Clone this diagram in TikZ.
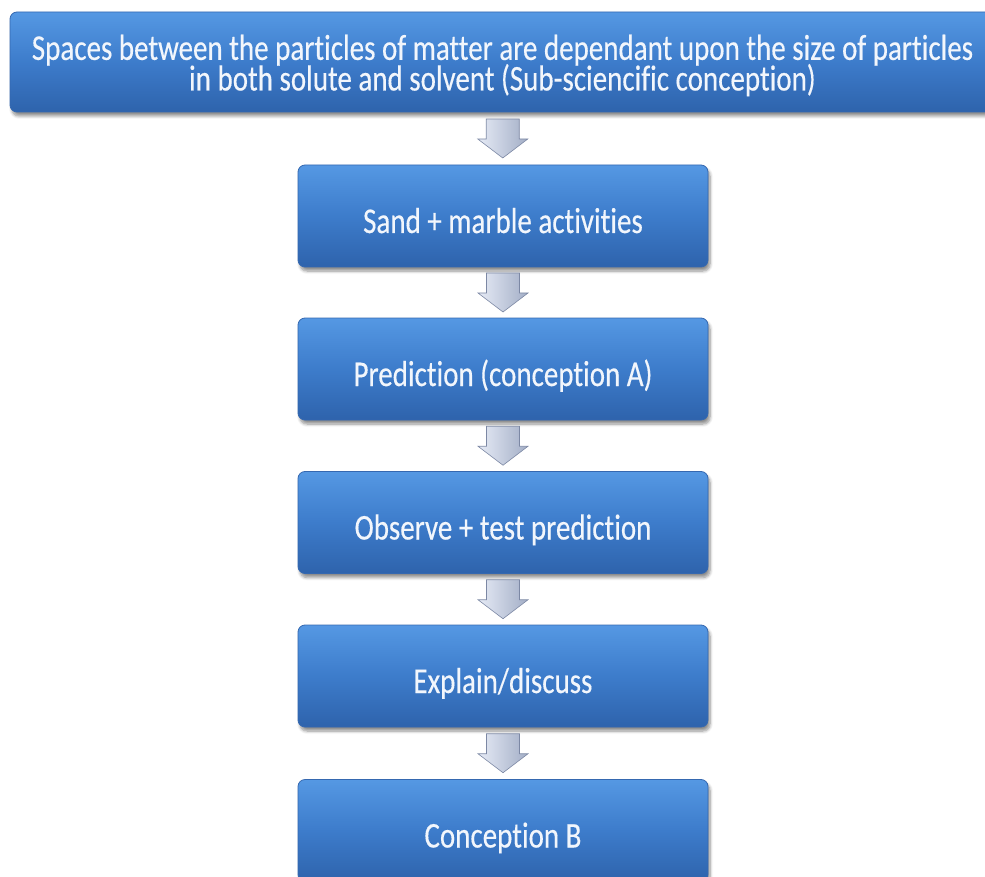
\documentclass[tikz,border=0pt]{standalone}
\usepackage{fontspec}
\setmainfont{Carlito}[Ligatures=NoCommon, FakeBold=0.4]
\usetikzlibrary{shadows.blur,calc}

\definecolor{boxtop}{HTML}{5598E3}
\definecolor{boxmid}{HTML}{3D7CCB}
\definecolor{boxbot}{HTML}{2E63AC}
\definecolor{boxline}{HTML}{3568B0}
\definecolor{boxtext}{HTML}{F2F6FC}
\definecolor{arrowlight}{HTML}{E6EBF6}
\definecolor{arrowdark}{HTML}{A3AEC6}
\definecolor{arrowline}{HTML}{7C88A4}

% tall, narrow lettering
\newcommand{\tallbox}[1]{\scalebox{1}[1.25]{#1}}
% two centred lines at a fixed baseline distance
\newcommand{\twolines}[2]{\vbox{\lineskiplimit=-50pt\baselineskip=24.5pt
  \halign{\hfil##\hfil\cr #1\cr #2\cr}}}

\tikzset{
  stagebox/.style={
    rounded corners=7pt, draw=boxline, line width=0.8pt,
    top color=boxtop, bottom color=boxbot, middle color=boxmid,
    text=boxtext, align=center, font=\fontsize{29}{23}\selectfont,
    minimum width=410pt, minimum height=102pt, inner sep=0pt,
    text height=36pt, text depth=2pt,
    blur shadow={shadow xshift=2pt, shadow yshift=-4pt, shadow blur steps=6,
                 shadow blur radius=3pt, shadow opacity=45}
  },
  headbox/.style={stagebox, minimum width=985pt, minimum height=100pt,
    text height=61pt, text depth=4pt},
  blockarrow/.style={
    draw=arrowline, line width=0.6pt, line join=miter,
    left color=arrowlight, right color=arrowdark
  }
}

% block arrow centred on a named coordinate: shaft 33 wide, head 50 wide, 39 long
\newcommand{\downarrowat}[1]{%
  \draw[blockarrow]
    ([shift={(-16.5,-19.5)}]#1) -- ([shift={(16.5,-19.5)}]#1)
    -- ([shift={(16.5,0.5)}]#1) -- ([shift={(25,0.5)}]#1)
    -- ([shift={(0,19.5)}]#1) -- ([shift={(-25,0.5)}]#1)
    -- ([shift={(-16.5,0.5)}]#1) -- cycle;}

\begin{document}
\begin{tikzpicture}[x=1pt,y=-1pt]
  \useasboundingbox (0,0) rectangle (985,877);

  \node[headbox] (top) at (502.5,62) {\tallbox{\twolines{Spaces between the particles of matter are dependant upon the size of particles}{in both solute and solvent (Sub-sciencific conception)}}};
  \node[stagebox] (sand) at (503,216) {\tallbox{Sand + marble activities}};
  \node[stagebox] (pred) at (503,369) {\tallbox{Prediction (conception A)}};
  \node[stagebox] (obs)  at (503,522.5) {\tallbox{Observe + test prediction}};
  \node[stagebox] (expl) at (503,676) {\tallbox{Explain/discuss}};
  \node[stagebox] (conc) at (503,830.5) {\tallbox{Conception B}};

  \coordinate (a1) at ($(top.south)!0.5!(sand.north)$);
  \coordinate (a2) at ($(sand.south)!0.5!(pred.north)$);
  \coordinate (a3) at ($(pred.south)!0.5!(obs.north)$);
  \coordinate (a4) at ($(obs.south)!0.5!(expl.north)$);
  \coordinate (a5) at ($(expl.south)!0.5!(conc.north)$);
  \downarrowat{a1}
  \downarrowat{a2}
  \downarrowat{a3}
  \downarrowat{a4}
  \downarrowat{a5}
\end{tikzpicture}
\end{document}
